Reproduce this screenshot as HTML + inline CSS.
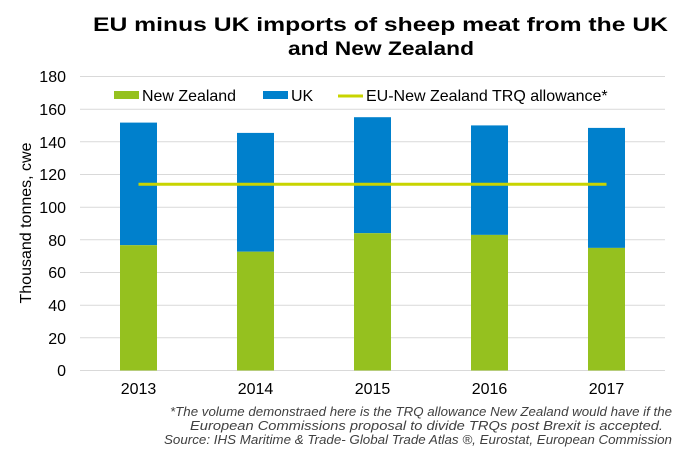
<!DOCTYPE html>
<html><head><style>
body{margin:0;background:#fff;}
svg text{font-family:"Liberation Sans",Arial,sans-serif;}
</style></head><body>
<svg width="680" height="454" viewBox="0 0 680 454" xmlns="http://www.w3.org/2000/svg">
<rect width="680" height="454" fill="#fff"/>
<text x="93" y="31" font-size="19.5" font-weight="bold" fill="#000" textLength="575" lengthAdjust="spacingAndGlyphs">EU minus UK imports of sheep meat from the UK</text>
<text x="288" y="55" font-size="19.5" font-weight="bold" fill="#000" textLength="186" lengthAdjust="spacingAndGlyphs">and New Zealand</text>
<g stroke="#d9d9d9" stroke-width="1">
<line x1="80" x2="665" y1="76.5" y2="76.5"/>
<line x1="80" x2="665" y1="109.2" y2="109.2"/>
<line x1="80" x2="665" y1="141.8" y2="141.8"/>
<line x1="80" x2="665" y1="174.5" y2="174.5"/>
<line x1="80" x2="665" y1="207.2" y2="207.2"/>
<line x1="80" x2="665" y1="239.8" y2="239.8"/>
<line x1="80" x2="665" y1="272.5" y2="272.5"/>
<line x1="80" x2="665" y1="305.2" y2="305.2"/>
<line x1="80" x2="665" y1="337.8" y2="337.8"/>
<line x1="80" x2="665" y1="370.5" y2="370.5"/>
</g>
<g font-size="16" fill="#000" text-anchor="end">
<text x="66" y="82">180</text><text x="66" y="115">160</text><text x="66" y="148">140</text>
<text x="66" y="180">120</text><text x="66" y="213">100</text><text x="66" y="246">80</text>
<text x="66" y="278">60</text><text x="66" y="311">40</text><text x="66" y="344">20</text><text x="66" y="376">0</text>
</g>
<text transform="translate(31,223) rotate(-90)" font-size="16" text-anchor="middle">Thousand tonnes, cwe</text>
<g>
<rect x="120" y="122.6" width="37" height="122.6" fill="#0080cc"/><rect x="120" y="245.2" width="37" height="125.3" fill="#95c11f"/>
<rect x="237" y="132.9" width="37" height="118.8" fill="#0080cc"/><rect x="237" y="251.7" width="37" height="118.8" fill="#95c11f"/>
<rect x="354" y="117.2" width="37" height="116" fill="#0080cc"/><rect x="354" y="233.2" width="37" height="137.3" fill="#95c11f"/>
<rect x="471" y="125.4" width="37" height="109.5" fill="#0080cc"/><rect x="471" y="234.9" width="37" height="135.6" fill="#95c11f"/>
<rect x="588" y="127.9" width="37" height="120" fill="#0080cc"/><rect x="588" y="247.9" width="37" height="122.6" fill="#95c11f"/>
</g>
<line x1="138.5" x2="606.5" y1="184.3" y2="184.3" stroke="#c8d400" stroke-width="3"/>
<g font-size="16" text-anchor="middle">
<text x="138.5" y="394">2013</text><text x="255.5" y="394">2014</text><text x="372.5" y="394">2015</text><text x="489.5" y="394">2016</text><text x="606.5" y="394">2017</text>
</g>
<rect x="114" y="91" width="25" height="8" fill="#95c11f"/>
<text x="142" y="101" font-size="16" textLength="94" lengthAdjust="spacingAndGlyphs">New Zealand</text>
<rect x="263" y="91" width="25" height="8" fill="#0080cc"/>
<text x="291" y="101" font-size="16">UK</text>
<line x1="338" x2="363" y1="96" y2="96" stroke="#c8d400" stroke-width="3"/>
<text x="366" y="101" font-size="16">EU-New Zealand TRQ allowance*</text>
<g font-size="13" font-style="italic" fill="#404040">
<text x="170" y="416" textLength="502" lengthAdjust="spacingAndGlyphs">*The volume demonstraed here is the TRQ allowance New Zealand would have if the</text>
<text x="190" y="430" textLength="473" lengthAdjust="spacingAndGlyphs">European Commissions proposal to divide TRQs post Brexit is accepted.</text>
<text x="164" y="444" textLength="508" lengthAdjust="spacingAndGlyphs">Source: IHS Maritime &amp; Trade- Global Trade Atlas ®, Eurostat, European Commission</text>
</g>
</svg>
</body></html>
